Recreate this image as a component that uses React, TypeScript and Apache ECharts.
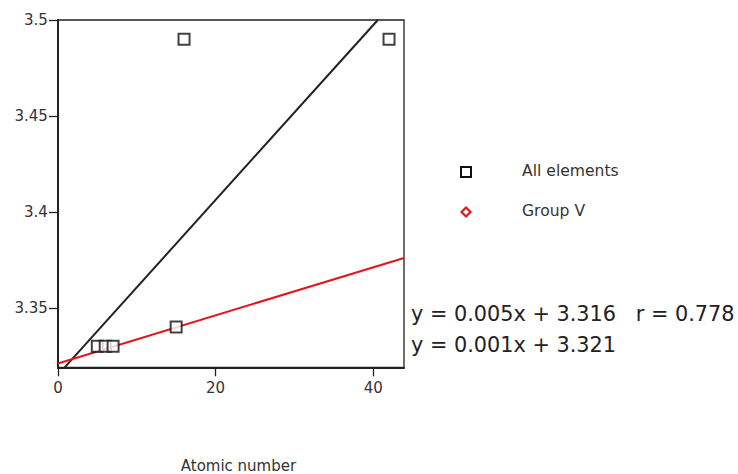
import React, { useEffect, useRef } from "react";
import * as echarts from "echarts";

// Data
const allX = [5, 6, 7, 15, 16, 42];
const allY = [3.33, 3.33, 3.33, 3.34, 3.49, 3.49];
// Fit line endpoints (All elements)
const fitAllX = [0.86, 40.58];
const fitAllY = [3.319, 3.5];
// Fit line endpoints (Group V)
const fitVX = [0, 43.9];
const fitVY = [3.321, 3.376];
const xTicks = [0, 20, 40];
const yTicks = [3.35, 3.4, 3.45, 3.5];
const legendNames = ["All elements", "Group V"];
const equations = ["y = 0.005x + 3.316   r = 0.778", "y = 0.001x + 3.321"];

const FONT = "DejaVu Sans";
const DARK = "#222";

export default function App() {
  const ref = useRef<HTMLDivElement>(null);
  useEffect(() => {
    if (!ref.current) return;
    const chart = echarts.init(ref.current, null, { renderer: "svg" });
    const pts = allX.map((x, i) => [x, allY[i]]);
    const lineAll = fitAllX.map((x, i) => [x, fitAllY[i]]);
    const lineV = fitVX.map((x, i) => [x, fitVY[i]]);
    chart.setOption({
      animation: false,
      backgroundColor: "#fff",
      grid: {
        left: 57.9,
        top: 20,
        right: 738 - 404,
        bottom: 474 - 367.3,
        show: true,
        borderColor: DARK,
        borderWidth: 1.3,
        outerBoundsMode: "none",
        containLabel: false,
      },
      xAxis: {
        type: "value",
        min: 0,
        max: 43.9,
        splitLine: { show: false },
        axisLine: { show: true, lineStyle: { color: DARK, width: 2 } },
        axisTick: {
          show: true,
          length: 9,
          customValues: xTicks,
          lineStyle: { color: DARK, width: 1.3 },
        },
        axisLabel: {
          customValues: xTicks,
          margin: 13,
          fontFamily: FONT,
          fontSize: 15,
          color: "#333",
        },
        name: "Atomic number",
        nameLocation: "middle",
        nameGap: 91,
        nameTextStyle: { fontFamily: FONT, fontSize: 15, color: "#333", padding: [0, 0, 0, 15] },
      },
      yAxis: {
        type: "value",
        min: 3.319,
        max: 3.5,
        splitLine: { show: false },
        axisLine: { show: true, lineStyle: { color: DARK, width: 2 } },
        axisTick: {
          show: true,
          length: 9,
          customValues: yTicks,
          lineStyle: { color: DARK, width: 1.3 },
        },
        axisLabel: {
          customValues: yTicks,
          margin: 10,
          fontFamily: FONT,
          fontSize: 15,
          color: "#333",
        },
      },
      series: [
        {
          name: "All elements fit",
          type: "line",
          data: lineAll,
          symbol: "none",
          lineStyle: { color: DARK, width: 2 },
          silent: true,
        },
        {
          name: "Group V fit",
          type: "line",
          data: lineV,
          symbol: "none",
          lineStyle: { color: "#e3141b", width: 2 },
          silent: true,
        },
        {
          name: legendNames[0],
          type: "scatter",
          data: pts,
          symbol: "rect",
          symbolSize: 11,
          itemStyle: { color: "#fff", borderColor: "#111", borderWidth: 2 },
          z: 5,
        },
      ],
      graphic: [
        {
          type: "rect",
          shape: { x: 461, y: 167, width: 10, height: 10 },
          style: { fill: "#fff", stroke: "#111", lineWidth: 2 },
        },
        {
          type: "polygon",
          shape: { points: [[466, 207.5], [470.5, 212], [466, 216.5], [461.5, 212]] },
          style: { fill: "#fff", stroke: "#e3141b", lineWidth: 2.2 },
        },
        {
          type: "text",
          left: 522,
          top: 172 - 9,
          style: { text: legendNames[0], fontFamily: FONT, fontSize: 15.6, fill: "#333" },
        },
        {
          type: "text",
          left: 522,
          top: 212 - 9,
          style: { text: legendNames[1], fontFamily: FONT, fontSize: 15.6, fill: "#333" },
        },
        {
          type: "text",
          left: 411,
          top: 315 - 12,
          style: { text: equations[0], fontFamily: FONT, fontSize: 20.8, fill: DARK },
        },
        {
          type: "text",
          left: 411,
          top: 346 - 12,
          style: { text: equations[1], fontFamily: FONT, fontSize: 20.8, fill: DARK },
        },
      ],
    });
    return () => chart.dispose();
  }, []);
  return (
    <div
      ref={ref}
      style={{ position: "fixed", left: 0, top: 0, width: 738, height: 474, background: "#fff" }}
    />
  );
}
